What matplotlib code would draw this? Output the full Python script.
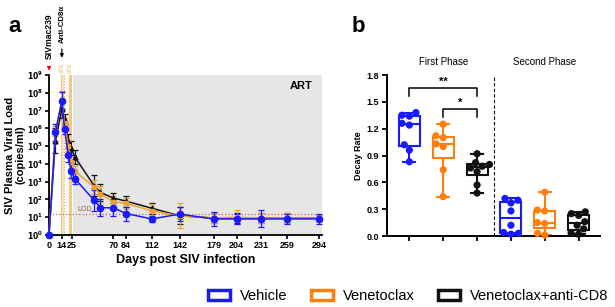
import numpy as np
import pandas as pd
import matplotlib
matplotlib.use("Agg")
import matplotlib.pyplot as plt
from matplotlib.patches import Patch
import seaborn as sns

plt.rcParams["font.family"] = ["Liberation Sans", "DejaVu Sans"]

# panel a: viral load over time
days = [0, 7, 14, 17, 21, 24, 28, 49, 56, 70, 84, 112, 142, 179, 204, 231, 259, 294]
day_ticks = [0, 14, 25, 70, 84, 112, 142, 179, 204, 231, 259, 294]
vl_vehicle = [1, 6e5, 3.5e7, 9e5, 3e4, 4e3, 1.5e3, 90, 34, 34, 16, 8, 15, 8, 8, 8, 8, 8]
vl_ven = [1, 7e5, 4e7, 2e6, 1e5, 1.2e4, 4e3, 500, 200, 75, 60, 23, 12, 9, 10, 9, 9, 9]
vl_cd8 = [1, 2e5, 1.2e7, 3e6, 2e5, 8e4, 2.5e4, 600, 250, 120, 80, 32, 12, 9, 9, 9, 9, 9]
err_vehicle = [1, 3, 3, 2, 2.5, 2.5, 2, 4, 3, 3, 2.5, 1.5, 2.5, 2.5, 2, 3, 2, 2]
err_ven = [1, 2, 3, 2, 2, 2, 2, 2.5, 3, 2, 2, 2.5, 5, 2, 2.5, 2, 2, 1.5]
err_cd8 = [1, 5, 3, 2, 2.5, 2.5, 2.5, 4, 3, 2, 2, 2, 3, 2, 2, 2, 2, 1.5]
lod = 15
art_start = 26

# panel b: decay rates
groups = ["Vehicle", "Venetoclax", "Venetoclax+anti-CD8"]
veh_1 = [1.38, 1.35, 1.34, 1.26, 1.24, 1.02, 0.96, 0.83]
ven_1 = [1.25, 1.12, 1.10, 1.03, 1.00, 0.74, 0.44]
cd8_1 = [0.92, 0.82, 0.80, 0.78, 0.76, 0.72, 0.57, 0.48]
veh_2 = [0.42, 0.40, 0.37, 0.28, 0.12, 0.04, 0.03, 0.02]
ven_2 = [0.49, 0.29, 0.28, 0.15, 0.14, 0.03, 0.01]
cd8_2 = [0.27, 0.25, 0.23, 0.16, 0.12, 0.08, 0.03, 0.02]

blue = "#1a1aff"
orange_a = "#f0a030"
orange_b = "#ff7f0e"
black = "#111111"

fig = plt.figure(figsize=(6.15, 3.07), dpi=100)

# ---------- panel a ----------
ax = fig.add_axes([49/615, 1-235/307, 273/615, 160/307])
ax.set_yscale("log")
ax.set_xlim(0, 297)
ax.set_ylim(1, 1e9)
ax.axvspan(art_start, 297, color="#e6e6e6", zorder=0, lw=0)
ax.axvspan(13.2, 16.2, color=orange_a, alpha=0.3, zorder=1, lw=0)
ax.axvline(13.2, color=orange_a, ls=":", lw=0.8, zorder=1)
ax.axvline(16.2, color=orange_a, ls=":", lw=0.8, zorder=1)
ax.axvspan(21.5, 25.5, color=orange_a, alpha=0.6, zorder=1, lw=0)
ax.axhline(lod, color="#e06050", ls=":", lw=0.9, zorder=1)
ax.text(31, 22, "LOD", fontsize=5, color="#8a6a3a")
ax.text(0.965, 0.93, "ART", transform=ax.transAxes, ha="right", va="center",
        fontsize=8, fontweight="bold")

for vals, errs, col, mk, ms in [(vl_cd8, err_cd8, black, "^", 3.5),
                                (vl_ven, err_ven, orange_a, "s", 3.5),
                                (vl_vehicle, err_vehicle, blue, "o", 4.5)]:
    v = np.array(vals)
    f = np.array(errs)
    yerr = [v - v / f, v * f - v]
    ax.errorbar(days, v, yerr=yerr, color=col, marker=mk, ms=ms, lw=1.1,
                elinewidth=0.9, capsize=2, capthick=0.9, clip_on=False, zorder=3)

ax.set_yticks([10**i for i in range(10)])
ax.set_yticklabels([r"$\mathbf{10^{%d}}$" % i for i in range(10)], fontsize=5.5)
ax.minorticks_off()
ax.set_xticks(day_ticks)
ax.set_xticklabels([str(d) for d in day_ticks], fontsize=6.5, fontweight="bold")
ax.tick_params(length=3, width=1.2, pad=1.5)
for s in ["top", "right"]:
    ax.spines[s].set_visible(False)
for s in ["left", "bottom"]:
    ax.spines[s].set_linewidth(1.3)
ax.set_xlabel("Days post SIV infection", fontsize=9, fontweight="bold", labelpad=3)
ax.set_ylabel("SIV Plasma Viral Load\n(copies/ml)", fontsize=8, fontweight="bold",
              labelpad=1, linespacing=1.0)

trans = ax.get_xaxis_transform()
ax.annotate("", xy=(0, 1.01), xytext=(0, 1.07), xycoords=trans, textcoords=trans,
            arrowprops=dict(arrowstyle="-|>", color="red", lw=0.9, mutation_scale=5))
ax.text(0, 1.1, "SIVmac239", transform=trans, rotation=90, ha="center", va="bottom",
        fontsize=6.2, fontweight="bold")
ax.annotate("", xy=(14, 1.09), xytext=(14, 1.18), xycoords=trans, textcoords=trans,
            arrowprops=dict(arrowstyle="-|>", color="black", lw=0.9, mutation_scale=5))
ax.text(14, 1.2, "Anti-CD8α", transform=trans, rotation=90, ha="center", va="bottom",
        fontsize=5.6, fontweight="bold")
for d in [14.7, 23.5]:
    ax.text(d, 1.01, "VTX", transform=trans, rotation=90, ha="center", va="bottom",
            fontsize=3.8, color=orange_a)

# ---------- panel b ----------
bx = fig.add_axes([387/615, 1-236/307, 213/615, 161/307])
box_data = [veh_1, ven_1, cd8_1, veh_2, ven_2, cd8_2]
box_cols = [blue, orange_b, black, blue, orange_b, black]
bp = bx.boxplot(box_data, positions=range(6), widths=0.62, whis=(0, 100),
                patch_artist=True, showfliers=False, capwidths=0.36)
for i, col in enumerate(box_cols):
    bp["boxes"][i].set(facecolor="white", edgecolor=col, lw=1.5)
    bp["medians"][i].set(color=col, lw=1.5)
    for w in bp["whiskers"][2*i:2*i+2] + bp["caps"][2*i:2*i+2]:
        w.set(color=col, lw=1.5)

rows = []
for i, vals in enumerate(box_data):
    for v in vals:
        rows.append({"pos": str(i), "rate": v, "grp": groups[i % 3]})
df = pd.DataFrame(rows)
sns.swarmplot(data=df, x="pos", y="rate", hue="grp", order=[str(i) for i in range(6)],
              palette={groups[0]: blue, groups[1]: orange_b, groups[2]: black},
              size=5.2, ax=bx, legend=False, zorder=4, clip_on=False)

bx.set_xlim(-0.66, 5.63)
bx.set_ylim(0, 1.8)
bx.set_yticks(np.arange(0, 1.81, 0.3))
bx.set_yticklabels(["%.1f" % t for t in np.arange(0, 1.81, 0.3)], fontsize=6.5,
                   fontweight="bold")
bx.set_xticks(range(6))
bx.set_xticklabels([])
bx.set_xlabel("")
bx.set_ylabel("Decay Rate", fontsize=6.5, fontweight="bold", labelpad=3)
bx.tick_params(length=3.5, width=1.3, pad=2)
for s in ["top", "right"]:
    bx.spines[s].set_visible(False)
for s in ["left", "bottom"]:
    bx.spines[s].set_linewidth(1.4)
bx.axvline(2.5, color="black", ls=(0, (3, 2)), lw=0.8)
bx.text(1, 1.95, "First Phase", ha="center", va="center", fontsize=7)
bx.text(4, 1.95, "Second Phase", ha="center", va="center", fontsize=7)

for x0, x1, y, lbl in [(0, 2, 1.66, "**"), (1, 2, 1.42, "*")]:
    bx.plot([x0, x0, x1, x1], [y - 0.09, y, y, y - 0.09], color="black", lw=1.1,
            clip_on=False)
    bx.text((x0 + x1) / 2, y + 0.01, lbl, ha="center", va="bottom", fontsize=8,
            fontweight="bold")

fig.text(8/615, 1-27/307, "a", fontsize=16, fontweight="bold", va="center")
fig.text(352/615, 1-27/307, "b", fontsize=16, fontweight="bold", va="center")

handles = [Patch(facecolor="white", edgecolor=c, lw=2.5) for c in [blue, orange_b, black]]
fig.legend(handles, groups, loc="center left", bbox_to_anchor=(208/615, 1-296/307),
           ncol=3, frameon=False, fontsize=10.5, handlelength=1.5, handleheight=0.75,
           columnspacing=1.6, handletextpad=0.7, borderaxespad=0, borderpad=0)

fig.savefig("out.png", dpi=100)
